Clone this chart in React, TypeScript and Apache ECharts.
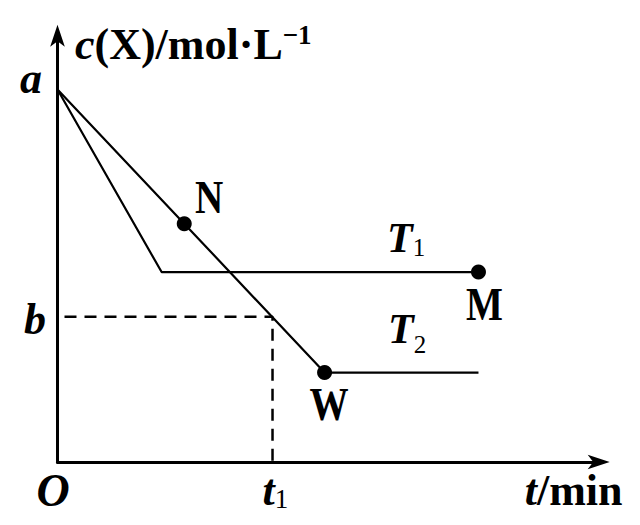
import React, { useEffect, useRef } from "react";
import * as echarts from "echarts";

// ---- data ----
const A_VALUE = 10; // c(X) at t = 0  -> label "a"
const B_VALUE = 3.9; // c(X) at t1     -> label "b"
const T1_TIME = 4.75; // t1
const X_MAX = 12;
const Y_MAX = 11.5;
const curveT1: number[][] = [[0, 10], [2.3, 5.1], [9.3, 5.1]];
const curveT2: number[][] = [[0, 10], [2.8, 6.4], [5.9, 2.4], [9.3, 2.4]];
const pointNames = ["N", "M", "W"];
const pointValues: number[][] = [[2.8, 6.4], [9.3, 5.1], [5.9, 2.4]];
const guideLine: number[][] = [[0, B_VALUE], [T1_TIME, B_VALUE], [T1_TIME, 0]];

const FONT = '"Liberation Serif", "Times New Roman", serif';

type Run = { text: string; size: number; italic?: boolean; bold?: boolean; sx?: number; shift?: number };
type Label = { anchor: number[]; dx: number; dy: number; align: "left" | "center"; runs: Run[] };

const labels: Label[] = [
  { anchor: [0, Y_MAX], dx: 17.5, dy: 25.3, align: "left", runs: [
    { text: "c", size: 44, italic: true, bold: true },
    { text: "(X)/mol\u00B7L", size: 44, bold: true },
    { text: "\u22121", size: 27, bold: true, shift: -15 },
  ] },
  { anchor: [0, A_VALUE], dx: -26.5, dy: 4, align: "center", runs: [{ text: "a", size: 44, italic: true, bold: true }] },
  { anchor: [0, B_VALUE], dx: -22.5, dy: 18, align: "center", runs: [{ text: "b", size: 44, italic: true, bold: true }] },
  { anchor: [0, 0], dx: -4.5, dy: 44, align: "center", runs: [{ text: "O", size: 46, italic: true, bold: true }] },
  { anchor: [T1_TIME, 0], dx: -10, dy: 43, align: "left", runs: [
    { text: "t", size: 44, italic: true, bold: true },
    { text: "1", size: 27, shift: 3 },
  ] },
  { anchor: [X_MAX, 0], dx: -76, dy: 43, align: "left", runs: [
    { text: "t", size: 44, italic: true, bold: true },
    { text: "/min", size: 44, bold: true },
  ] },
  { anchor: pointValues[0], dx: 10.7, dy: -10.7, align: "left", runs: [{ text: pointNames[0], size: 46, bold: true, sx: 0.85 }] },
  { anchor: pointValues[1], dx: 6, dy: 48, align: "center", runs: [{ text: pointNames[1], size: 46, bold: true, sx: 0.85 }] },
  { anchor: pointValues[2], dx: 4.5, dy: 47, align: "center", runs: [{ text: pointNames[2], size: 46, bold: true, sx: 0.85 }] },
  { anchor: curveT1[2], dx: -91.5, dy: -20, align: "left", runs: [
    { text: "T", size: 42, italic: true, bold: true },
    { text: "1", size: 25, shift: 4 },
  ] },
  { anchor: curveT2[3], dx: -90.5, dy: -29.6, align: "left", runs: [
    { text: "T", size: 42, italic: true, bold: true },
    { text: "2", size: 25, shift: 10 },
  ] },
];

function buildGraphic(chart: echarts.ECharts) {
  const ctx = document.createElement("canvas").getContext("2d")!;
  const measure = (r: Run) => {
    ctx.font = `${r.italic ? "italic " : ""}${r.bold ? "bold " : ""}${r.size}px ${FONT}`;
    return ctx.measureText(r.text).width * (r.sx ?? 1);
  };
  const els: any[] = [];
  labels.forEach((lb) => {
    const p = chart.convertToPixel({ gridIndex: 0 }, lb.anchor) as number[];
    const widths = lb.runs.map(measure);
    const total = widths.reduce((s, w) => s + w, 0);
    let cursor = p[0] + lb.dx - (lb.align === "center" ? total / 2 : 0);
    const baseline = p[1] + lb.dy;
    lb.runs.forEach((r, i) => {
      const w = widths[i];
      els.push({
        type: "text",
        x: cursor + w / 2,
        y: baseline + (r.shift ?? 0) - 0.3375 * r.size,
        scaleX: r.sx ?? 1,
        z: 100,
        silent: true,
        style: {
          text: r.text,
          fontSize: r.size,
          fontFamily: FONT,
          fontWeight: r.bold ? "bold" : "normal",
          fontStyle: r.italic ? "italic" : "normal",
          fill: "#000",
          align: "center",
          verticalAlign: "middle",
          textAlign: "center",
          textVerticalAlign: "middle",
        },
      });
      cursor += w;
    });
  });
  return els;
}

export default function App() {
  const ref = useRef<HTMLDivElement>(null);
  useEffect(() => {
    const chart = echarts.init(ref.current!, undefined, { renderer: "svg" });
    const axisCommon = {
      type: "value" as const,
      min: 0,
      axisLine: {
        show: true,
        symbol: ["none", "arrow"],
        symbolSize: [11, 22],
        symbolOffset: [0, 9],
        lineStyle: { color: "#000", width: 3 },
      },
      axisTick: { show: false },
      axisLabel: { show: false },
      splitLine: { show: false },
    };
    chart.setOption({
      animation: false,
      backgroundColor: "#fff",
      grid: { left: 57.5, right: 39.3, top: 33.7, bottom: 63 },
      xAxis: { ...axisCommon, max: X_MAX },
      yAxis: { ...axisCommon, max: Y_MAX },
      series: [
        {
          type: "line",
          data: guideLine,
          showSymbol: false,
          lineStyle: { color: "#000", width: 2.5, type: [12, 8], dashOffset: 12.5 },
          z: 1,
        },
        {
          type: "line",
          name: "T1",
          data: curveT1,
          showSymbol: false,
          lineStyle: { color: "#000", width: 2.2 },
          z: 2,
        },
        {
          type: "line",
          name: "T2",
          data: curveT2,
          showSymbol: false,
          lineStyle: { color: "#000", width: 2.2 },
          z: 2,
        },
        {
          type: "scatter",
          data: pointValues.map((v, i) => ({ name: pointNames[i], value: v })),
          symbolSize: 15,
          itemStyle: { color: "#000", opacity: 1 },
          z: 3,
        },
      ],
    });
    chart.setOption({ graphic: buildGraphic(chart) });
    return () => chart.dispose();
  }, []);
  return (
    <div
      ref={ref}
      style={{ position: "fixed", left: 0, top: 0, width: 640, height: 525, background: "#fff" }}
    />
  );
}
